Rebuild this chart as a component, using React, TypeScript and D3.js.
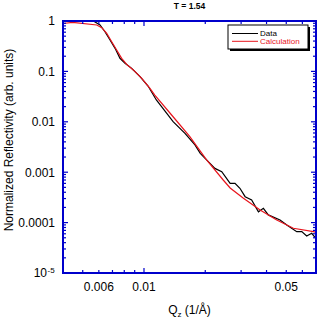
import React from "react";
import * as d3 from "d3";

const dataQ = [0.004, 0.00417, 0.00485, 0.00564, 0.00608, 0.00643, 0.00681, 0.00721, 0.00762, 0.00807, 0.0087, 0.00956, 0.01047, 0.0115, 0.0122, 0.0139, 0.0159, 0.0178, 0.0189, 0.0207, 0.0223, 0.0241, 0.0265, 0.028, 0.0296, 0.0314, 0.0338, 0.0365, 0.0386, 0.0408, 0.0466, 0.0503, 0.0563, 0.0596, 0.063, 0.0667, 0.0692, 0.0706];
const dataR = [0.98, 1.0, 1.0, 1.0, 0.833, 0.613, 0.42, 0.287, 0.182, 0.145, 0.115, 0.0785, 0.0513, 0.0271, 0.0199, 0.01005, 0.00591, 0.00347, 0.00237, 0.00162, 0.00119, 0.00102, 0.000602, 0.000602, 0.00048, 0.000327, 0.000281, 0.000164, 0.000192, 0.000142, 0.000113, 0.0000896, 0.0000661, 0.0000661, 0.0000542, 0.0000614, 0.0000512, 0.0000452];

const calcQ = [0.004, 0.00446, 0.00586, 0.0062, 0.00656, 0.00694, 0.00734, 0.00777, 0.00822, 0.00886, 0.00975, 0.0107, 0.0113, 0.0139, 0.0168, 0.0203, 0.0245, 0.0265, 0.0308, 0.0372, 0.0449, 0.0542, 0.068, 0.0707];
const calcR = [0.892, 0.942, 0.833, 0.736, 0.57, 0.388, 0.266, 0.182, 0.138, 0.107, 0.073, 0.0462, 0.034, 0.0126, 0.00506, 0.00175, 0.0007, 0.000486, 0.000304, 0.000178, 0.000113, 0.0000771, 0.0000661, 0.0000631];

const xMajor = [0.006, 0.01, 0.05];
const xMajorLabels = ["0.006", "0.01", "0.05"];
const yMajor = [1, 0.1, 0.01, 0.001, 0.0001];
const yMajorLabels = ["1", "0.1", "0.01", "0.001", "0.0001"];
const legendNames = ["Data", "Calculation"];
const legendColors = ["#000", "#e8141c"];

const W = 321, H = 322;
const L = 63, R = 316, T = 21, B = 273;
const BLUE = "#0000cc";
const FONT = "Liberation Sans, Arial, sans-serif";

export default function App() {
  const x = d3.scaleLog().domain([0.004, 0.07]).range([L, R]);
  const y = d3.scaleLog().domain([1e-5, 1]).range([B, T]);
  const line = d3.line<[number, number]>().x(d => x(d[0])).y(d => y(d[1]));
  const dataPts: [number, number][] = dataQ.map((q, i) => [q, dataR[i]]);
  const calcPts: [number, number][] = calcQ.map((q, i) => [q, calcR[i]]);

  const xMinor: number[] = [];
  for (let k = -3; k <= -2; k++) for (let m = 2; m <= 9; m++) {
    const v = m * Math.pow(10, k);
    if (v >= 0.004 && v <= 0.0701) xMinor.push(v);
  }
  const xMaj10 = [0.01];
  const yMinor: number[] = [];
  for (let k = -5; k < 0; k++) for (let m = 2; m <= 9; m++) yMinor.push(m * Math.pow(10, k));

  const clipId = "plotclip";
  return (
    <svg width={W} height={H} style={{ position: "absolute", left: 0, top: 0 }} fontFamily={FONT}>
      <defs>
        <clipPath id={clipId}><rect x={L} y={T} width={R - L} height={B - T} /></clipPath>
      </defs>
      <rect x={0} y={0} width={W} height={H} fill="#fff" />
      <text x={(L + R) / 2} y={9} textAnchor="middle" fontSize={8.5} fontWeight="bold">T = 1.54</text>

      <g clipPath={`url(#${clipId})`}>
        <path d={line(dataPts) || ""} fill="none" stroke="#000" strokeWidth={1.2} />
        <path d={line(calcPts) || ""} fill="none" stroke="#e8141c" strokeWidth={1.2} />
      </g>

      <g stroke={BLUE} strokeWidth={1.2}>
        {xMinor.map((v, i) => (
          <g key={"xm" + i}>
            <line x1={x(v)} x2={x(v)} y1={B} y2={B - 3} />
            <line x1={x(v)} x2={x(v)} y1={T} y2={T + 3} />
          </g>
        ))}
        {xMaj10.map((v, i) => (
          <g key={"xM" + i}>
            <line x1={x(v)} x2={x(v)} y1={B} y2={B - 5} />
            <line x1={x(v)} x2={x(v)} y1={T} y2={T + 5} />
          </g>
        ))}
        {yMinor.map((v, i) => (
          <g key={"ym" + i}>
            <line x1={L} x2={L + 3} y1={y(v)} y2={y(v)} />
            <line x1={R} x2={R - 3} y1={y(v)} y2={y(v)} />
          </g>
        ))}
        {yMajor.concat([1e-5]).map((v, i) => (
          <g key={"yM" + i}>
            <line x1={L} x2={L + 5} y1={y(v)} y2={y(v)} />
            <line x1={R} x2={R - 5} y1={y(v)} y2={y(v)} />
          </g>
        ))}
      </g>
      <rect x={L} y={T} width={R - L} height={B - T} fill="none" stroke={BLUE} strokeWidth={2} />

      {xMajor.map((v, i) => (
        <text key={"xl" + i} x={x(v)} y={290.5} textAnchor="middle" fontSize={12}>{xMajorLabels[i]}</text>
      ))}
      {yMajor.map((v, i) => (
        <text key={"yl" + i} x={55} y={y(v) + 4.3} textAnchor="end" fontSize={12}>{yMajorLabels[i]}</text>
      ))}
      <text x={47} y={y(1e-5) + 4.3} textAnchor="end" fontSize={12}>10</text>
      <text x={47.5} y={y(1e-5) - 0.5} fontSize={8}>-5</text>

      <text transform={`translate(13,${(T + B) / 2 - 7}) rotate(-90)`} textAnchor="middle" fontSize={12}>Normalized Reflectivity (arb. units)</text>
      <text x={(L + R) / 2} y={314} textAnchor="middle" fontSize={12}>
        <tspan>Q</tspan><tspan fontSize={8} dy={3}>z</tspan><tspan dy={-3}> (1/Å)</tspan>
      </text>

      <rect x={230} y={27} width={80} height={24} fill="#000" />
      <rect x={228} y={25} width={80} height={24} fill="#fff" stroke="#000" strokeWidth={1} />
      {legendNames.map((n, i) => (
        <g key={"lg" + i}>
          <line x1={232} x2={258} y1={33.5 + i * 7.8} y2={33.5 + i * 7.8} stroke={legendColors[i]} strokeWidth={1} />
          <text x={260} y={36.2 + i * 7.8} fontSize={8} fill={legendColors[i]}>{n}</text>
        </g>
      ))}
    </svg>
  );
}
